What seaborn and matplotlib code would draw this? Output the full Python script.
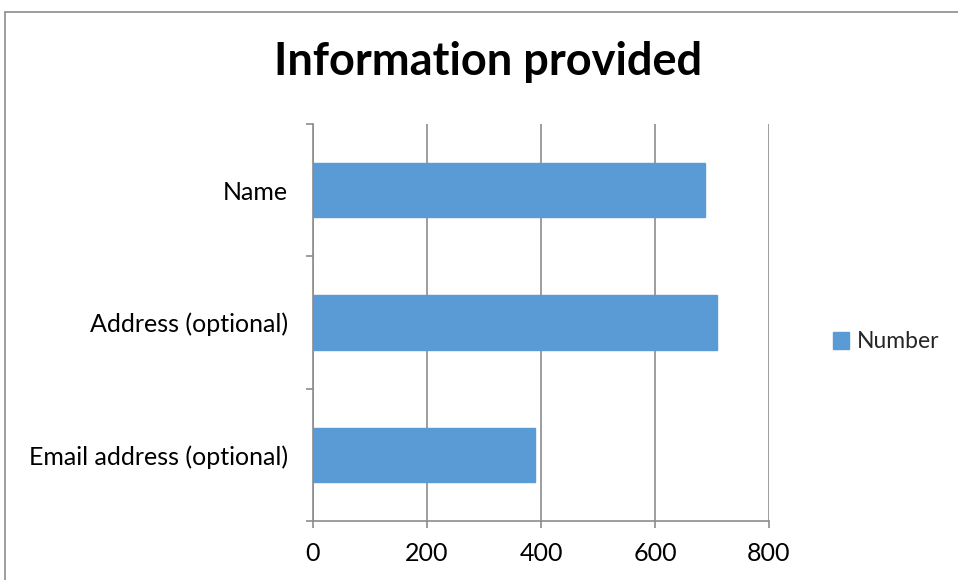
import matplotlib
matplotlib.use("Agg")
import matplotlib.pyplot as plt
import seaborn as sns
import pandas as pd
from matplotlib.patches import Rectangle
from matplotlib.lines import Line2D
from matplotlib.ticker import FixedLocator

categories = ["Name", "Address (optional)", "Email address (optional)"]
values = [687, 709, 390]
series_name = "Number"
x_ticks = [0, 200, 400, 600, 800]

df = pd.DataFrame({"Category": categories, series_name: values})

sns.set_theme(style="white")
plt.rcParams["font.family"] = ["Lato", "DejaVu Sans"]

fig = plt.figure(figsize=(9.58, 5.8), dpi=100)
ax = fig.add_axes([313/958, 1-521/580, (769-313)/958, (521-124)/580])

sns.barplot(data=df, x=series_name, y="Category", color="#5B9BD5",
            width=0.41, saturation=1, ax=ax, orient="h")

ax.set_xlim(0, 800)
ax.set_ylim(2.5, -0.5)
ax.set_xticks(x_ticks)
ax.set_xticklabels([str(t) for t in x_ticks], fontsize=18, color="#000000")
ax.set_xlabel("")
ax.set_ylabel("")
ax.xaxis.grid(True, color="#8C8C8C", linewidth=1.2)
ax.set_axisbelow(True)

ax.tick_params(axis="y", which="major", left=True, length=0, pad=18, labelsize=18, labelcolor="#000000")
ax.yaxis.set_minor_locator(FixedLocator([-0.5, 0.5, 1.5, 2.5]))
ax.tick_params(axis="y", which="minor", left=True, length=5, color="#8C8C8C", width=1.2, direction="out")
ax.tick_params(axis="x", which="major", bottom=True, length=5, color="#8C8C8C", width=1.2, direction="out", pad=10)

for s in ["top", "right"]:
    ax.spines[s].set_visible(False)
for s in ["left", "bottom"]:
    ax.spines[s].set_color("#8C8C8C")
    ax.spines[s].set_linewidth(1.2)

for p in ax.patches:
    p.set_edgecolor("#5B9BD5")

handle = Rectangle((0, 0), 1, 1, facecolor="#5B9BD5", edgecolor="#5B9BD5")
fig.legend([handle], [series_name], loc="center left", bbox_to_anchor=(833/958, 1-342/580),
           frameon=False, fontsize=16.5, handlelength=0.7, handleheight=0.7, handletextpad=0.35,
           borderpad=0, borderaxespad=0)

fig.text(488/958, 1-62/580, "Information provided", ha="center", va="center",
         fontsize=32.5, fontweight="bold", color="#000000")

fig.add_artist(Line2D([5/958, 5/958], [0, 1-12/580], transform=fig.transFigure,
                      color="#8C8C8C", linewidth=1.2))
fig.add_artist(Line2D([5/958, 1], [1-12/580, 1-12/580], transform=fig.transFigure,
                      color="#8C8C8C", linewidth=1.2))

fig.savefig("out.png", dpi=100)
